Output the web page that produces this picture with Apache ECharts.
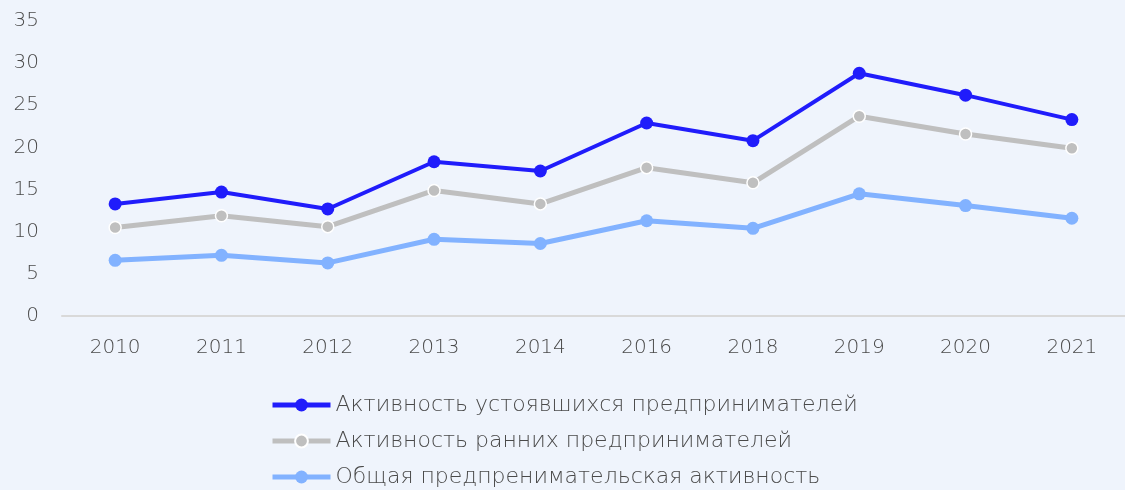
<!DOCTYPE html>
<html>
<head>
<meta charset="utf-8">
<script src="https://cdn.jsdelivr.net/npm/echarts@6/dist/echarts.min.js"></script>
<style>
  html, body { margin: 0; padding: 0; background: #EFF4FC; }
  #chart { width: 1125px; height: 490px; }
</style>
</head>
<body>
<div id="chart"></div>
<script>
const years = ["2010", "2011", "2012", "2013", "2014", "2016", "2018", "2019", "2020", "2021"];
const established = [13.3, 14.7, 12.7, 18.3, 17.2, 22.9, 20.8, 28.8, 26.2, 23.3];
const early = [10.5, 11.9, 10.6, 14.9, 13.3, 17.6, 15.8, 23.7, 21.6, 19.9];
const total = [6.6, 7.2, 6.3, 9.1, 8.6, 11.3, 10.4, 14.5, 13.1, 11.6];
const yTicks = [0, 5, 10, 15, 20, 25, 30, 35];

document.addEventListener("DOMContentLoaded", () => {
  const chart = echarts.init(document.getElementById("chart"));
  const font = "'DejaVu Sans', sans-serif";
  chart.setOption({
    backgroundColor: "#EFF4FC",
    animation: false,
    grid: { left: 62, right: -5, top: 21, bottom: 174 },
    legend: {
      orient: "vertical",
      left: 270,
      top: 394,
      height: 130,
      padding: 0,
      itemWidth: 58,
      itemHeight: 16,
      itemGap: 14,
      lineStyle: { width: 5 },
      textStyle: { color: "#4A4A4A", fontSize: 22, fontFamily: font, fontWeight: 200 },
      data: ["Активность устоявшихся предпринимателей", "Активность ранних предпринимателей", "Общая предпренимательская активность"]
    },
    xAxis: {
      type: "category",
      data: years,
      axisLine: { lineStyle: { color: "#D9D9D9", width: 2 } },
      axisTick: { show: false },
      axisLabel: { color: "#4A4A4A", fontSize: 20, fontFamily: font, fontWeight: 200, margin: 22 }
    },
    yAxis: {
      type: "value",
      min: yTicks[0],
      max: yTicks[yTicks.length - 1],
      interval: 5,
      splitLine: { show: false },
      axisLine: { show: false },
      axisTick: { show: false },
      axisLabel: { color: "#4A4A4A", fontSize: 20, fontFamily: font, fontWeight: 200, margin: 23 }
    },
    series: [
      {
        name: "Активность устоявшихся предпринимателей",
        type: "line",
        data: established,
        symbol: "circle",
        symbolSize: 13,
        lineStyle: { color: "#201CFB", width: 4 },
        itemStyle: { color: "#201CFB" },
        z: 4
      },
      {
        name: "Активность ранних предпринимателей",
        type: "line",
        data: early,
        symbol: "circle",
        symbolSize: 12,
        lineStyle: { color: "#BFBFBF", width: 5 },
        itemStyle: { color: "#BFBFBF", borderColor: "#FFFFFF", borderWidth: 1.5 },
        z: 3
      },
      {
        name: "Общая предпренимательская активность",
        type: "line",
        data: total,
        symbol: "circle",
        symbolSize: 13,
        lineStyle: { color: "#82B2FF", width: 5 },
        itemStyle: { color: "#82B2FF" },
        z: 2
      }
    ]
  });

  window.addEventListener("resize", () => chart.resize());
});
</script>
</body>
</html>
